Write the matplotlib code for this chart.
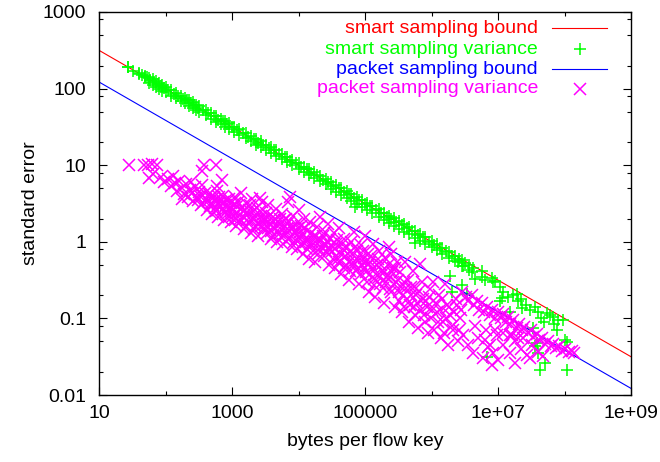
import matplotlib
matplotlib.use("Agg")
import matplotlib.pyplot as plt
from matplotlib.ticker import FixedLocator, FixedFormatter, NullFormatter

plt.rcParams['font.family'] = ['Liberation Sans', 'DejaVu Sans']

# ---------------- data ----------------
smart_bound_x = [10, 1e9]
smart_bound_y = [316, 0.0316]
packet_bound_x = [10, 1e9]
packet_bound_y = [122, 0.0122]

# smart sampling variance: dense band along the bound + scattered tail
smart_band_x = [27, 40, 49, 56, 64, 72, 81, 90, 100, 121, 144, 169, 196, 225, 256, 289, 324,
                400, 484, 576, 676, 784, 900, 1089, 1296, 1600, 1936, 2304, 2704, 3249, 3844,
                4624, 5625, 6724, 8100, 10000, 12100, 14400, 16900, 21025, 25600, 30625, 36100,
                44100, 52900, 62500, 75625, 90000, 108900, 129600, 160000, 193600, 230400,
                270400, 324900, 384400, 462400, 562500, 672400, 810000, 1000000, 1210000,
                1440000, 1822500, 2250000, 2890000, 3610000]
smart_band_y1 = [192, 160, 146, 139, 132, 124, 118, 111, 105, 96, 88, 81, 75, 70.5, 66, 62, 58.5,
                 53, 48, 44, 40.5, 37.8, 35.3, 32, 29.4, 26.5, 24, 22, 20.4, 18.6, 17.1,
                 15.6, 14.1, 12.9, 11.8, 10.6, 9.6, 8.8, 8.15, 7.3, 6.6, 6.05, 5.58,
                 5.05, 4.6, 4.24, 3.86, 3.53, 3.2, 2.95, 2.65, 2.4, 2.2,
                 2.03, 1.85, 1.7, 1.55, 1.4, 1.28, 1.16, 1.03, 0.93,
                 0.84, 0.74, 0.66, 0.57, 0.5]
smart_band_y2 = [192, 157, 140, 120, 112, 106, 99, 94, 90, 80, 75, 69, 64, 59, 56, 52, 50,
                 45, 40, 37, 34.5, 32, 30, 27, 25, 22.5, 20.5, 18.6, 17.2, 15.8, 14.4,
                 13.2, 11.9, 11, 10, 9, 8.2, 7.5, 6.9, 6.2, 5.6, 4.85, 4.5,
                 4.05, 3.7, 3.4, 3.1, 2.85, 2.6, 2.37, 2.13, 1.94, 1.77,
                 1.63, 1.49, 1.36, 1.25, 1.12, 1.03, 0.94, 0.85, 0.77,
                 0.7, 0.62, 0.56, 0.49, 0.43]
smart_mid_x = [32, 44, 52, 59, 67, 76, 85, 94, 110, 132, 156, 182, 210, 240, 272, 306, 361,
               441, 529, 625, 729, 841, 992, 1190, 1444, 1764, 2116, 2500, 2970, 3540, 4225,
               5112, 6162, 7396, 9025, 11025, 13225, 15625, 18769, 23104, 27889, 33124, 40000,
               48400, 57600, 68644, 82369, 99225, 119025, 144400, 176400, 211600, 250000,
               297025, 354025, 422500, 511225, 616225, 739600, 902500, 1102500, 1322500,
               1625625, 2030625, 2560000, 3240000, 4202500]
smart_mid_y = [172, 150, 140, 128, 123, 114, 109, 102, 96, 86, 81, 73, 70, 64, 61.5, 56.5,
               53, 47.5, 44, 39.5, 37.5, 34.2, 32, 28.6, 26.5, 23.5, 22, 19.7, 18.5,
               16.6, 15.6, 13.8, 12.8, 11.5, 10.7, 9.4, 8.8, 7.9, 7.4, 6.5, 6.05, 5.4,
               5.05, 4.45, 4.2, 3.78, 3.52, 3.1, 2.9, 2.6, 2.4, 2.13, 2.0, 1.8, 1.68,
               1.5, 1.38, 1.24, 1.14, 1.0, 0.92, 0.83, 0.76, 0.66, 0.6, 0.53, 0.45]
smart_tail_x = [7.1e4, 5.6e5, 1.9e6, 2.0e6, 2.9e6, 3.4e6, 5.7e6, 5.7e6, 6.3e6, 8.3e6, 9e6,
                1.07e7, 1.07e7, 1.15e7, 1.4e7, 1.5e7, 1.7e7, 1.9e7, 2.3e7, 2.6e7, 3e7, 3.4e7,
                3.6e7, 4e7, 5.5e7, 6e7, 6.8e7, 7.8e7, 8e7, 9.6e7, 1.0e8, 1.1e8, 3.6e7, 3.9e7,
                4e7, 5.1e7, 4.3e7, 1.1e8, 6.8e6, 8e6, 4e6, 4.5e6, 2.5e6, 3e6, 1.2e7, 2e7,
                2.2e7, 4.5e7, 7e7, 5e7]
smart_tail_y = [2.85, 0.96, 0.36, 0.22, 0.27, 0.21, 0.35, 0.41, 0.32, 0.30, 0.31,
                0.26, 0.17, 0.186, 0.19, 0.12, 0.2, 0.21, 0.138, 0.15, 0.129, 0.074,
                0.14, 0.12, 0.118, 0.11, 0.105, 0.071, 0.095, 0.095, 0.052, 0.049, 0.043, 0.048,
                0.035, 0.026, 0.021, 0.021, 0.031, 0.34, 0.4, 0.33, 0.55, 0.48, 0.22, 0.17,
                0.18, 0.1, 0.085, 0.09]

# packet sampling variance (outer cloud + dense core)
packet_x = [28, 48, 55, 63, 74, 56, 66, 85, 95, 110, 120, 130,
            140, 150, 160, 175, 190, 200, 215, 230, 250, 260, 280, 300, 180, 240,
            355, 380, 575, 590, 700,
            320, 340, 360, 400, 420, 450, 480, 500, 530, 560, 600, 620, 650, 700, 720, 760,
            800, 850, 900, 950, 980,
            1050, 1100, 1150, 1200, 1300, 1350, 1450, 1500, 1600, 1700, 1800, 1900, 2000,
            2100, 2200, 2400, 2500, 2700, 2800, 3000, 3000, 2600,
            3200, 3400, 3500, 3700, 3900, 4100, 4300, 4600, 4800, 5000, 5300, 5600, 5900,
            6200, 6500, 6900, 7200, 7400, 7600, 8000, 8400, 8800, 9200, 9600, 1e4,
            1.05e4, 1.1e4, 1.15e4, 1.2e4, 1.3e4, 1.35e4, 1.45e4, 1.5e4, 1.6e4, 1.7e4, 1.8e4,
            1.9e4, 2.0e4, 2.1e4, 2.2e4, 2.4e4, 2.5e4, 2.6e4, 2.8e4, 2.9e4, 3.0e4,
            3.2e4, 3.4e4, 3.5e4, 3.7e4, 3.9e4, 4.1e4, 4.4e4, 4.6e4, 4.9e4, 5.2e4, 5.5e4,
            5.8e4, 6.1e4, 6.5e4, 6.9e4, 7.3e4, 7.7e4, 8.1e4, 8.6e4, 9.0e4, 9.5e4, 1.0e5,
            1.05e5, 1.1e5, 1.15e5, 1.2e5, 1.3e5, 1.35e5, 1.4e5, 1.5e5, 1.6e5, 1.7e5, 1.8e5,
            1.9e5, 2.0e5, 2.1e5, 2.3e5, 2.4e5, 2.5e5, 2.6e5, 2.8e5, 2.9e5, 3.0e5,
            3.2e5, 3.4e5, 3.6e5, 3.8e5, 4.0e5, 4.3e5, 4.6e5, 4.9e5, 5.2e5, 5.5e5, 5.9e5,
            6.3e5, 6.8e5, 7.2e5, 7.7e5, 8.2e5, 8.8e5, 9.4e5, 1.0e6,
            1.05e6, 1.1e6, 1.2e6, 1.3e6, 1.4e6, 1.5e6, 1.6e6, 1.7e6, 1.8e6, 1.9e6, 2.1e6,
            2.3e6, 2.5e6, 2.7e6, 2.9e6, 3.0e6,
            3.3e6, 3.6e6, 4.0e6, 4.4e6, 4.8e6, 5.2e6, 5.7e6, 6.2e6, 6.8e6, 7.5e6, 8.2e6,
            9e6, 1e7, 3.5e6, 4.2e6, 5e6, 6e6, 7e6, 8e6, 9.5e6, 4.5e6, 6.5e6, 8.5e6,
            1.1e7, 1.2e7, 1.3e7, 1.4e7, 1.5e7, 1.7e7, 1.9e7, 2.1e7, 2.3e7, 2.5e7, 2.8e7,
            3.1e7, 3.4e7, 3.8e7, 4.2e7, 4.6e7, 5.1e7, 5.6e7, 6.2e7, 6.8e7, 7.5e7, 8.3e7,
            9.2e7, 1.0e8, 1.15e8, 1.3e8, 1.4e8,
            1.2e7, 1.5e7, 1.8e7, 2.2e7, 2.7e7, 3.3e7, 4e7, 4.8e7, 1.6e7, 2.4e7, 3e7,
            7.6e6, 1.8e7, 1e7, 6.3e6, 9e6, 1.2e7, 1.5e7, 2e7]
packet_y = [10.2, 10.2, 10.0, 10.3, 10.0, 6.8, 7.6, 7.0, 6.0, 6.6, 5.3, 7.2,
            5.8, 4.6, 6.2, 5.0, 4.2, 5.6, 3.8, 4.8, 4.4, 3.4, 5.2, 3.9, 3.6, 6.0,
            8.3, 10.0, 10.0, 5.3, 6.4,
            4.5, 3.0, 5.5, 3.6, 2.6, 4.2, 3.2, 2.3, 3.8, 2.8, 4.6, 2.1, 3.4, 2.6, 4.0, 1.9,
            3.0, 2.3, 3.6, 1.8, 2.8,
            2.2, 3.8, 1.6, 2.9, 2.0, 4.4, 2.5, 1.45, 3.2, 1.9, 2.6, 1.3, 3.6,
            2.1, 1.6, 2.8, 1.2, 2.2, 3.3, 1.5, 1.9, 3.7,
            2.4, 1.3, 3.0, 1.7, 1.1, 2.1, 1.5, 2.7, 1.0, 1.8, 1.3, 2.3, 0.95,
            1.6, 2.0, 3.3, 1.1, 3.8, 1.5, 0.85, 2.2, 1.3, 1.7, 0.8, 2.6,
            1.1, 1.6, 0.7, 2.0, 1.0, 1.4, 0.6, 1.8, 0.9, 1.2, 0.55,
            1.55, 0.8, 2.1, 1.05, 0.65, 1.35, 0.9, 1.7, 0.5, 1.1,
            0.75, 1.3, 0.45, 0.95, 0.6, 1.5, 0.38, 0.8, 1.1, 0.5, 0.7,
            0.32, 1.0, 0.55, 1.35, 0.42, 0.75, 0.28, 0.9, 0.5, 0.62, 1.2,
            0.4, 0.7, 0.22, 0.55, 0.95, 0.33, 0.19, 0.5, 0.75, 0.28, 0.42,
            0.16, 0.62, 0.35, 0.85, 0.24, 0.7, 0.45, 0.14, 0.3, 0.55,
            0.22, 0.4, 0.12, 0.3, 0.55, 0.18, 0.09, 0.26, 0.42, 0.14, 0.2,
            0.075, 0.52, 0.3, 0.11, 0.17, 0.065, 0.24, 0.13,
            0.3, 0.07, 0.12, 0.2, 0.055, 0.09, 0.28, 0.15, 0.045, 0.11, 0.07,
            0.18, 0.05, 0.1, 0.22, 0.06,
            0.19, 0.17, 0.2, 0.15, 0.17, 0.13, 0.16, 0.12, 0.14, 0.11, 0.13,
            0.1, 0.12, 0.045, 0.035, 0.055, 0.03, 0.042, 0.025, 0.06, 0.08, 0.07, 0.035,
            0.1, 0.115, 0.09, 0.105, 0.085, 0.095, 0.075, 0.085, 0.07, 0.078, 0.065,
            0.07, 0.058, 0.062, 0.052, 0.056, 0.047, 0.05, 0.044, 0.046, 0.041, 0.043,
            0.038, 0.04, 0.036, 0.038, 0.035,
            0.045, 0.035, 0.05, 0.04, 0.033, 0.045, 0.036, 0.032, 0.06, 0.055, 0.03,
            0.045, 0.026, 0.029, 0.052, 0.07, 0.065, 0.06, 0.055]
packet_core_x = [310, 330, 370, 390, 430, 460, 490, 520, 550, 580, 610, 640, 680, 740, 780,
                 820, 870, 920, 970,
                 1020, 1080, 1130, 1180, 1250, 1320, 1400, 1480, 1550, 1650, 1750, 1850, 1950,
                 2050, 2150, 2300, 2450, 2600, 2750, 2900,
                 3100, 3300, 3450, 3600, 3800, 4000, 4200, 4400, 4700, 4900, 5200, 5500, 5800,
                 6100, 6400, 6700, 7000, 7300, 7800, 8200, 8600, 9000, 9400, 9800,
                 1.02e4, 1.08e4, 1.12e4, 1.18e4, 1.25e4, 1.32e4, 1.4e4, 1.48e4, 1.55e4, 1.65e4,
                 1.75e4, 1.85e4, 1.95e4, 2.05e4, 2.15e4, 2.3e4, 2.45e4, 2.55e4, 2.7e4, 2.85e4,
                 3.1e4, 3.3e4, 3.6e4, 3.8e4, 4.0e4, 4.3e4, 4.5e4, 4.8e4, 5.0e4, 5.4e4, 5.7e4,
                 6.0e4, 6.3e4, 6.7e4, 7.1e4, 7.5e4, 7.9e4, 8.4e4, 8.8e4, 9.3e4, 9.8e4,
                 1.02e5, 1.08e5, 1.12e5, 1.18e5, 1.25e5, 1.32e5, 1.38e5, 1.45e5, 1.55e5, 1.65e5,
                 1.75e5, 1.85e5, 1.95e5, 2.05e5, 2.2e5, 2.35e5, 2.45e5, 2.55e5, 2.7e5, 2.85e5,
                 3.1e5, 3.3e5, 3.5e5, 3.7e5, 3.9e5, 4.2e5, 4.5e5, 4.8e5, 5.0e5, 5.4e5, 5.7e5,
                 6.1e5, 6.5e5, 7.0e5, 7.5e5, 8.0e5, 8.5e5, 9.1e5, 9.7e5,
                 1.15e6, 1.25e6, 1.35e6, 1.45e6, 1.55e6, 1.65e6, 1.85e6, 2.0e6, 2.2e6, 2.4e6,
                 2.6e6, 2.8e6]
packet_core_y = [3.5, 4.0, 3.2, 4.4, 3.4, 2.9, 3.9, 3.0, 3.5, 2.5, 3.1, 3.9, 2.9, 3.3, 2.4,
                 3.5, 2.7, 2.2, 3.2,
                 2.6, 3.1, 2.0, 2.4, 3.3, 1.8, 2.8, 2.1, 2.6, 1.6, 2.3, 3.0, 1.9,
                 2.5, 1.45, 2.1, 1.7, 2.5, 1.6, 2.0,
                 1.7, 2.0, 1.5, 2.2, 1.4, 1.8, 1.2, 2.0, 1.4, 1.6, 2.0, 1.15, 1.5,
                 1.9, 1.25, 1.45, 1.1, 1.8, 1.2, 1.5, 1.0, 1.35, 1.1, 1.5,
                 1.3, 0.9, 1.25, 1.0, 1.5, 0.8, 1.1, 0.95, 1.3, 0.75,
                 1.0, 1.2, 0.7, 1.0, 0.85, 1.2, 0.9, 0.75, 1.0, 0.8,
                 0.9, 0.6, 0.8, 1.05, 0.55, 0.7, 0.95, 0.45, 0.65, 0.85, 0.55,
                 0.42, 0.7, 0.5, 0.85, 0.6, 0.45, 0.6, 0.38, 0.75, 0.45,
                 0.55, 0.3, 0.5, 0.38, 0.65, 0.45, 0.27, 0.38, 0.6, 0.35,
                 0.5, 0.25, 0.4, 0.3, 0.5, 0.35, 0.22, 0.4, 0.28, 0.45,
                 0.32, 0.17, 0.26, 0.2, 0.14, 0.25, 0.32, 0.15, 0.2, 0.26, 0.11,
                 0.16, 0.23, 0.13, 0.18, 0.09, 0.14, 0.19, 0.1,
                 0.16, 0.09, 0.13, 0.18, 0.065, 0.1, 0.14, 0.08, 0.12, 0.15,
                 0.07, 0.13]

x_tick_vals = [10, 1e3, 1e5, 1e7, 1e9]
x_tick_labels = ['10', '1000', '100000', '1e+07', '1e+09']
x_minor_vals = [100, 1e4, 1e6, 1e8]
y_tick_vals = [0.01, 0.1, 1, 10, 100, 1000]
y_tick_labels = ['0.01', '0.1', '1', '10', '100', '1000']
y_minor_vals = [m * d for d in [0.01, 0.1, 1, 10, 100] for m in (2, 5, 8)]

legend_labels = ['smart sampling bound', 'smart sampling variance',
                 'packet sampling bound', 'packet sampling variance']

RED, GREEN, BLUE, MAG = '#ff0000', '#00ff00', '#0000ff', '#ff00ff'
FS = 14

# ---------------- figure ----------------
fig = plt.figure(figsize=(6.6, 4.62), dpi=100)
ax = fig.add_axes([99 / 660, 67 / 462, 532 / 660, 383 / 462])
ax.set_xscale('log')
ax.set_yscale('log')

ms_plus, ms_x, mew = 9, 8, 1.1
pk = dict(ls='none', marker='+', ms=ms_plus, mew=mew, color=GREEN)
ax.plot(smart_bound_x, smart_bound_y, color=RED, lw=0.8)
ax.plot(smart_band_x, smart_band_y1, **pk)
ax.plot(smart_band_x, smart_band_y2, **pk)
ax.plot(smart_mid_x, smart_mid_y, **pk)
ax.plot(smart_tail_x, smart_tail_y, **pk)
ax.plot(packet_bound_x, packet_bound_y, color=BLUE, lw=0.8)
mk = dict(ls='none', marker='x', ms=ms_x, mew=mew, color=MAG)
ax.plot(packet_x, packet_y, **mk)
ax.plot(packet_core_x, packet_core_y, **mk)

ax.set_xlim(10, 1e9)
ax.set_ylim(0.01, 1000)

ax.xaxis.set_major_locator(FixedLocator(x_tick_vals))
ax.xaxis.set_major_formatter(FixedFormatter(x_tick_labels))
ax.xaxis.set_minor_locator(FixedLocator(x_minor_vals))
ax.xaxis.set_minor_formatter(NullFormatter())
ax.yaxis.set_major_locator(FixedLocator(y_tick_vals))
ax.yaxis.set_major_formatter(FixedFormatter(y_tick_labels))
ax.yaxis.set_minor_locator(FixedLocator(y_minor_vals))
ax.yaxis.set_minor_formatter(NullFormatter())

ax.tick_params(which='both', direction='in', top=True, right=True, width=0.8,
               labelsize=FS, colors='black')
ax.tick_params(which='major', length=6)
ax.tick_params(which='minor', length=3)
ax.tick_params(axis='x', which='major', pad=7)
ax.tick_params(axis='y', which='major', pad=9)
for s in ax.spines.values():
    s.set_linewidth(1.0)

ax.set_xlabel('bytes per flow key', fontsize=FS, labelpad=8)
ax.set_ylabel('standard error', fontsize=FS, labelpad=3)

# legend (gnuplot style: right-justified coloured text, sample on the right)
rows_y = [0.958, 0.903, 0.851, 0.799]
colors = [RED, GREEN, BLUE, MAG]
for i, (lab, c) in enumerate(zip(legend_labels, colors)):
    ax.text(0.825, rows_y[i], lab, transform=ax.transAxes, ha='right', va='center',
            color=c, fontsize=FS)
ax.plot([0.851, 0.955], [rows_y[0]] * 2, transform=ax.transAxes, color=RED, lw=0.8)
ax.plot([0.904], [rows_y[1]], transform=ax.transAxes, marker='+', ms=ms_plus, mew=mew, color=GREEN)
ax.plot([0.851, 0.955], [rows_y[2]] * 2, transform=ax.transAxes, color=BLUE, lw=0.8)
ax.plot([0.904], [rows_y[3]], transform=ax.transAxes, marker='x', ms=ms_x, mew=mew, color=MAG)

fig.savefig('out.png', dpi=100)
